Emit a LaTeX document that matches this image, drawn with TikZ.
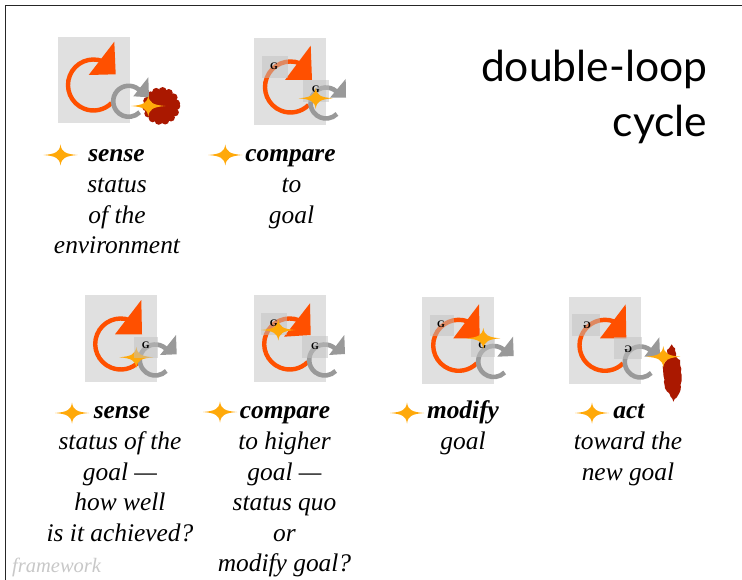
\documentclass[tikz,border=0pt]{standalone}
\usepackage{fontspec}
\usetikzlibrary{decorations.pathmorphing}
\setmainfont{Liberation Serif}
\newfontfamily\titlefont{Lato}
\definecolor{orangeloop}{HTML}{FF5000}
\definecolor{greyloop}{HTML}{999999}
\definecolor{panel}{HTML}{E0E0E0}
\definecolor{gbox}{HTML}{C1C1C1}
\definecolor{starc}{HTML}{FFA90A}
\definecolor{blob}{HTML}{AA1800}
\definecolor{fwgrey}{HTML}{C8C8C8}
\tikzset{
 x=1pt,y=-1pt,
 bodytext/.style={font=\fontsize{25.4}{30.5}\selectfont\itshape,align=center,anchor=north,inner sep=0pt},
 headtext/.style={font=\fontsize{25.4}{30.5}\selectfont\itshape\bfseries,anchor=base,inner sep=0pt},
 titletext/.style={font=\fontsize{42.6}{55}\selectfont\titlefont,align=right,anchor=north east,inner sep=0pt,text=black},
 footertext/.style={font=\fontsize{20.5}{24}\selectfont\itshape,text=fwgrey,anchor=base west,inner sep=0pt},
 bigloop/.style={draw=orangeloop,line width=4.4pt},
 smallloop/.style={draw=greyloop,line width=4.6pt},
 gmark/.style={font=\fontsize{10}{10}\selectfont\bfseries,inner sep=0pt},
 picpanel/.style={fill=panel},
 gboxstyle/.style={fill=gbox,fill opacity=.5},
 framelines/.style={draw=black!85,line width=1pt},
}
\newcommand{\fourstar}[2]{%
 \fill[starc,shift={(#1,#2)}] (-17,0) .. controls (-5,-1) and (-1,-3) .. (0,-10.5) .. controls (1,-3) and (5,-1) .. (17,0) .. controls (5,1) and (1,3) .. (0,10.5) .. controls (-1,3) and (-5,1) .. (-17,0) -- cycle;}
% arcs: centre, then the three head corners
\newcommand{\bigring}[8]{%
 \draw[bigloop] (#1,#2) ++(-68:25.5) arc[start angle=-68,end angle=-315,radius=25.5];
 \fill[orangeloop] (#3,#4) -- (#5,#6) -- (#7,#8) -- cycle;}
\newcommand{\smallring}[8]{%
 \draw[smallloop] (#1,#2) ++(-38:15.5) arc[start angle=-38,end angle=-315,radius=15.5];
 \fill[greyloop] (#3,#4) -- (#5,#6) -- (#7,#8) -- cycle;}
\begin{document}
\begin{tikzpicture}
\useasboundingbox (0,0) rectangle (742,580);
\fill[white] (0,0) rectangle (742,580);
\draw[framelines] (5,580) -- (5,6) -- (742,6);
\node[titletext] (title) at (707.5,50) {double-loop\\cycle};
\node[footertext] (footer) at (12,572) {framework};
% ---- panel 1
\fill[picpanel] (58,37) rectangle (130,122.7);
\bigring{93.5}{85}{114.3}{41.7}{115.7}{74.3}{88.7}{75}
\foreach \a in {0,25,...,350}{\fill[blob] (161.3,106) ++(\a:15) circle[radius=4];}
\fill[blob] (161.3,106) circle[radius=15];
\smallring{128.7}{101.3}{148.3}{77.3}{149}{97.3}{133.3}{96.3}
\fourstar{148.3}{106}
% ---- panel 2
\fill[picpanel] (254,38) rectangle (326,125);
\bigring{290.5}{87}{310.7}{45.7}{312}{80}{285}{80}
\smallring{326}{103}{345.7}{79}{346}{97.7}{330}{97.7}
\fill[gboxstyle] (262,56) rectangle (288,78);
\fill[gboxstyle] (303,80) rectangle (329,102);
\node[gmark] (g2a) at (274,66.7) {G};
\node[gmark] (g2b) at (315.7,89) {G};
\fourstar{315.7}{98.3}
% ---- panel 3
\fill[picpanel] (85,295) rectangle (157,382);
\bigring{120.7}{344}{141.3}{300}{142}{334.3}{115}{334.3}
\smallring{155.3}{360}{176}{335}{176.7}{354.3}{160}{355}
\fourstar{136.3}{357.3}
\fill[gboxstyle] (134,337) rectangle (158,357.7);
\node[gmark] (g3) at (145.7,345.3) {G};
% ---- panel 4
\fill[picpanel] (254,295) rectangle (326,382);
\bigring{289.7}{344}{310}{303.3}{310.7}{335}{284}{336.7}
\smallring{324.7}{360}{344.3}{335}{345}{354}{329}{355}
\fill[gboxstyle] (261,313) rectangle (287.3,335);
\fill[gboxstyle] (302,336) rectangle (328,357.7);
\node[gmark] (g4a) at (273.7,323.3) {G};
\node[gmark] (g4b) at (315,346.7) {G};
\fourstar{278.3}{330}
% ---- panel 5
\fill[picpanel] (422,297.3) rectangle (494,384);
\bigring{458.7}{345.3}{479}{304.3}{479.7}{338.3}{453.3}{338.3}
\smallring{493.7}{361.5}{513}{336.7}{513.7}{356}{497.3}{356.7}
\fill[gboxstyle] (430,315) rectangle (454,336);
\fill[gboxstyle] (471,337.7) rectangle (495,357);
\node[gmark] (g5a) at (441,324.3) {G};
\node[gmark] (g5b) at (482.3,345.7) {G};
\fourstar{483.3}{338.3}
% ---- panel 6
\fill[picpanel] (569,297.3) rectangle (641,384);
\bigring{605}{345.3}{625.7}{304.3}{626.3}{338.3}{600}{338.3}
\smallring{640.3}{362}{659.3}{337.3}{660}{356.7}{644.3}{356.7}
\fill[gboxstyle] (572,314) rectangle (600,336);
\fill[gboxstyle] (614,337) rectangle (642,359);
\node[gmark] (g6a) at (587,325) {\scalebox{-1}[1]{G}};
\node[gmark] (g6b) at (628.3,349) {\scalebox{-1}[1]{G}};
\fill[blob,decorate,decoration={random steps,segment length=3pt,amplitude=.6pt}]
 (671.7,344.3) -- (675,348.3) -- (676,356.7) -- (680,360) -- (681.7,375) -- (680,391.7) -- (673.3,401.7) -- (669.3,393.3) -- (665,388.3) -- (663.3,373.3) -- (662.7,366.7) -- (666.7,360) -- (667,350) -- cycle;
\fourstar{663.3}{356.7}
% ---- captions
\fourstar{60.5}{155}
\node[headtext] (h1) at (116.5,162) {sense};
\node[bodytext] (b1) at (117,171) {\strut status\\of the\\environment};
\fourstar{225.3}{155}
\node[headtext] (h2) at (290.5,162) {compare};
\node[bodytext] (b2) at (291.5,171) {\strut to\\goal};
\fourstar{72}{413}
\node[headtext] (h3) at (122,418) {sense};
\node[bodytext] (b3) at (120,428) {\strut status of the\\goal —\\how well\\is it achieved?};
\fourstar{220}{412}
\node[headtext] (h4) at (285,418) {compare};
\node[bodytext] (b4) at (284.5,428) {\strut to higher\\goal —\\status quo\\or\\modify goal?};
\fourstar{407}{413}
\node[headtext] (h5) at (463,418) {modify};
\node[bodytext] (b5) at (463,428) {\strut goal};
\fourstar{592}{413}
\node[headtext] (h6) at (629,418) {act};
\node[bodytext] (b6) at (628,428) {\strut toward the\\new goal};
\end{tikzpicture}
\end{document}
